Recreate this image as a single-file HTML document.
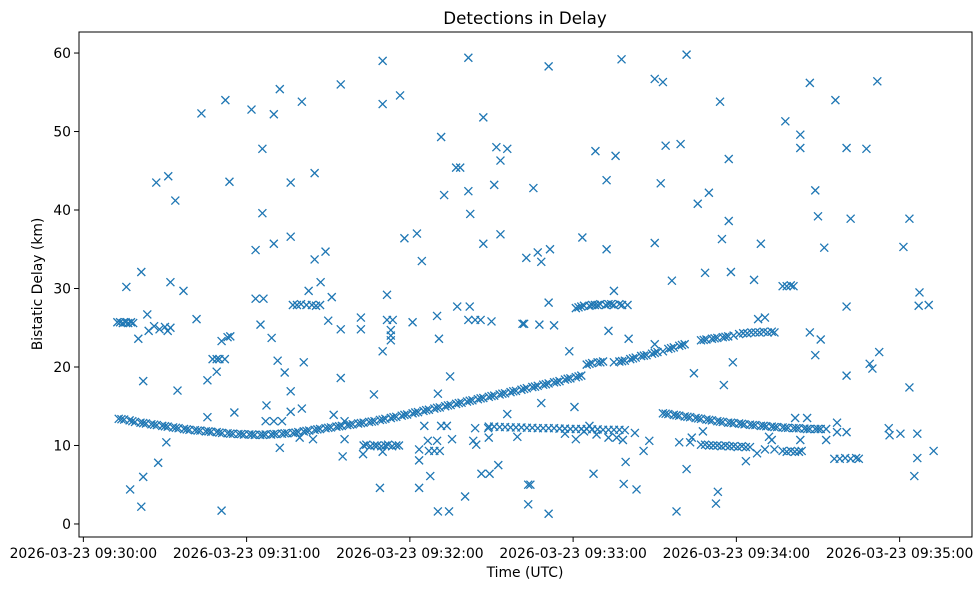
<!DOCTYPE html>
<html><head><meta charset="utf-8"><style>
html,body{margin:0;padding:0;background:#fff;}
svg{display:block;font-family:"DejaVu Sans","Liberation Sans",sans-serif;}
</style></head><body>
<svg id="chart" width="980" height="590" viewBox="0 0 980 590" xmlns="http://www.w3.org/2000/svg">
<rect width="980" height="590" fill="#fff"/>
<text x="525" y="24" font-size="16.7" text-anchor="middle" fill="#000">Detections in Delay</text>
<text x="525" y="577" font-size="13.9" text-anchor="middle" fill="#000">Time (UTC)</text>
<text x="0" y="0" font-size="13.9" text-anchor="middle" fill="#000" transform="translate(42,284) rotate(-90)">Bistatic Delay (km)</text>
<g id="marks"></g>
<g id="axes"></g>
</svg>
<script>
const xTickSeconds=[0,60,120,180,240,300];
const xTickLabels=["2026-03-23 09:30:00","2026-03-23 09:31:00","2026-03-23 09:32:00","2026-03-23 09:33:00","2026-03-23 09:34:00","2026-03-23 09:35:00"];
const yTickValues=[0,10,20,30,40,50,60];
const yTickLabels=["0","10","20","30","40","50","60"];

const upperTrackT=[13,15,17,19,21,23,25,27,29,31,33,35,37,39,41,43,45,47,49,51,53,55,57,59,61,63,65,67,69,71,73,75,77,79,81,83,85,87,89,91,93,95,97,99,101,103,105,107,109,111,113,115,117,119,121,123,125,127,129,131,133,135,137,139,141,143,145,147,149,151,153,155,157,159,161,163,165,167,169,171,173,175,177,179,181,183,185,187,189,191,195,197,199,201,203,205,207,209,211,213,215,217,219,221,227,229,231,233,235,237,239];
const upperTrackV=[13.4,13.3,13.2,13.0,12.9,12.8,12.7,12.6,12.5,12.4,12.3,12.2,12.1,12.0,11.95,11.9,11.8,11.75,11.7,11.6,11.55,11.5,11.45,11.4,11.4,11.35,11.35,11.4,11.4,11.45,11.5,11.55,11.6,11.7,11.8,11.9,12.0,12.1,12.2,12.3,12.4,12.5,12.6,12.7,12.8,12.9,13.0,13.1,13.25,13.4,13.5,13.65,13.8,13.95,14.1,14.25,14.4,14.55,14.7,14.85,15.0,15.15,15.3,15.45,15.6,15.75,15.9,16.05,16.2,16.35,16.5,16.65,16.8,16.95,17.1,17.3,17.45,17.6,17.75,17.9,18.05,18.2,18.4,18.55,18.7,18.9,20.3,20.5,20.6,20.7,20.6,20.7,20.8,21.0,21.2,21.4,21.5,21.7,21.9,22.0,22.3,22.5,22.7,22.9,23.4,23.5,23.6,23.7,23.8,23.9,24.0];
const upperTrackT2=[14,18,22,26,30,34,38,42,46,50,54,58,62,66,70,74,78,82,86,90,94,98,102,106,110,114,118,122,126,130,134,138,142,146,150,154,158,162,166,170,174,178,182,186,190,198,202,206,210,216,220,228,232,236];
const upperTrackV2=[13.35,13.1,12.85,12.65,12.45,12.25,12.05,11.9,11.8,11.65,11.5,11.45,11.4,11.35,11.45,11.55,11.65,11.85,12.05,12.25,12.45,12.65,12.85,13.05,13.3,13.6,13.9,14.2,14.5,14.8,15.1,15.4,15.7,16.0,16.3,16.6,16.9,17.2,17.5,17.8,18.1,18.5,18.8,20.4,20.6,20.75,21.1,21.45,21.8,22.4,22.8,23.45,23.65,23.85];

const lowerTrackT=[213,215,217,219,221,223,225,227,229,231,233,235,237,239,241,243,245,247,249,251,253,255,257,259,261,263,265,267,269,271];
const lowerTrackV=[14.1,14.0,13.9,13.8,13.7,13.6,13.5,13.4,13.3,13.2,13.1,13.0,12.9,12.85,12.8,12.7,12.65,12.6,12.5,12.45,12.4,12.35,12.3,12.25,12.2,12.2,12.15,12.1,12.1,12.1];
const lowerTrackT2=[214,218,222,226,230,234,238,242,246,250,254,258,262,266,270];
const lowerTrackV2=[14.05,13.85,13.65,13.45,13.25,13.05,12.9,12.75,12.6,12.5,12.35,12.25,12.2,12.1,12.1];

const bandT=[149,151,153,155,157,159,161,163,165,167,169,171,173,175,177,179,181,183,185,187,189,191,193,195,197,199];
const bandV=[12.4,12.4,12.35,12.35,12.3,12.3,12.3,12.25,12.25,12.2,12.2,12.2,12.2,12.15,12.15,12.1,12.1,12.1,12.1,12.05,12.05,12.0,12.0,12.0,12.0,11.95];

const clusterT=[12.5,13.5,14.5,15.5,16.5,17.5,18.3, 77,78.5,80,82,84,85.5,87, 103,104,105.5,107,108,109.5,111,112,113.5,115,116, 181,182,183,184,186,187,188,189,190,192,193,194,195,197,198,200, 241,242.5,244,245.5,247,248.5,250,251.5,253,254, 227,228.5,230,231.5,233,234.5,236,237.5,239,240.5,242,243.5,245, 257,258.5,260,261.5,263,264, 257,258.5,260,261, 276,278,280,282,284,285];
const clusterV=[25.7,25.7,25.6,25.7,25.6,25.7,25.6, 27.9,27.9,28.0,27.9,27.9,27.8,27.9, 10.0,10.1,9.9,10.0,10.0,9.9,10.0,10.1,9.9,10.0,10.0, 27.5,27.6,27.7,27.8,27.8,27.9,27.9,27.9,28.0,27.9,28.0,28.0,27.9,28.0,27.9,27.9, 24.2,24.3,24.3,24.4,24.4,24.4,24.5,24.4,24.5,24.4, 10.1,10.1,10.0,10.0,10.0,9.9,10.0,9.9,9.9,9.8,9.9,9.8,9.8, 9.3,9.2,9.3,9.2,9.2,9.3, 30.3,30.3,30.4,30.3, 8.3,8.3,8.4,8.3,8.4,8.3];

const scatterT=[15.8,21.3,26.8,31.2,33.8,32,36.8,23.5,20.2,24,26,28,30,31,32,22,34.6,17.2,21.3,22,27.5,30.5,41.6,43.4,45.6,45.6,47.5,49,50,52,49,50.8,53,54,52.2,53.7,50.8,55.5,61.8,65.8,65.8,63.3,63.3,66.2,65.1,69.2,70,72.2,70,76.2,76.2,71.4,74,76.2,67.3,67,70,73,76.2,80.3,72.2,79.5,84.4,80.3,85,85,89,87.2,82.8,81,91.3,90,94.6,94.6,94.6,92,96,96,95.3,102,102,106.8,102.8,110,109,110,110,116.4,111.6,111.6,113.7,113,113,113,110,118,122.6,124.4,121,130,130.7,131.5,132.6,137,138.5,141.5,141.5,142.2,147,147,151.8,153.3,155.8,151,153.3,162.8,137.4,142,141.5,144,146,150,161.4,125.3,123.4,123.4,123.4,127.5,126.6,130,127,129,131,130.3,134.8,131.5,133.6,135.5,130.3,134.4,140.3,143.3,144.4,144,148.8,149,146.3,149.3,152.5,155.8,159.5,163.5,163.5,171,165.4,167,171.5,168.3,171,162,167.6,173,178.6,183.4,188.2,195.6,192.3,192.3,197.8,195,193,200.4,210,213,214,219.5,212.2,210,210,216.3,221.7,225.8,229.9,234,237.2,237.2,234.7,228.5,238,246.5,249,248,250.5,258,263.5,263.5,267,269,270,272.3,267,271,269,276.4,280.5,282,280.5,287.8,291.8,292.5,289,290,280.5,301.4,303.6,307.3,307,310.7,303.6,296,296.3,300.3,306.5,306.5,305.4,312.5,273,273,277,277,280.5,261.6,266,263.5,168.3,180.5,164.3,171,187.5,198.6,199.3,203.3,205.9,202.7,208,221.7,218,232.5,233.2,224.4,235.4,238.7,243.5,247.6,250.5,254,252,253,227.7,223.6,219,223,177,181,184,186,188.6,193,196,198.3];
const scatterV=[30.2,32.1,43.5,44.3,41.2,30.8,29.7,26.7,23.6,24.6,25.2,24.8,25.1,24.6,25.0,18.2,17,4.4,2.2,6,7.8,10.4,26.1,52.3,18.3,13.6,21,21,21,21,19.4,23.3,23.8,23.9,54,43.6,1.7,14.2,52.8,47.8,39.6,34.9,28.7,28.7,25.4,23.7,52.2,55.4,35.7,43.5,36.6,20.8,19.3,16.9,15.1,13.1,13.1,13.1,14.3,14.7,9.7,11,10.8,53.8,44.7,33.7,34.7,30.8,29.7,20.6,28.9,25.9,24.8,56,18.6,13.9,13.1,10.8,8.6,26.3,24.8,16.5,8.9,9.2,4.6,59,53.5,54.6,29.2,26,26,24.7,24,23.4,22,36.4,37,33.5,25.7,26.5,23.6,49.3,41.9,45.4,45.4,59.4,42.4,39.5,51.8,35.7,48,46.3,47.8,43.2,36.9,33.9,27.7,27.7,26,26,26,25.8,25.5,12.5,9.5,8.1,4.6,6.1,10.6,10.6,9.3,9.3,9.3,16.6,18.8,12.5,12.5,10.8,1.6,1.6,3.5,10.6,10.1,12.2,12.2,11,6.4,6.4,7.5,14,11.1,5,2.5,58.3,42.8,34.6,35,33.4,28.2,25.5,25.4,25.3,22,36.5,47.5,46.9,43.8,35,59.2,29.7,24.6,23.6,56.7,56.3,48.2,48.4,43.4,35.8,22.9,31,59.8,40.8,42.2,53.8,46.5,38.6,36.3,32,32.1,31.1,35.7,26.1,26.3,51.3,49.6,47.9,56.2,42.5,39.2,35.2,24.4,23.5,21.5,54,47.9,38.9,27.7,47.8,56.4,21.9,20.4,19.8,18.9,35.3,38.9,29.5,27.8,27.9,17.4,12.2,11.3,11.5,11.5,8.4,6.1,9.3,12.1,10.7,12.9,11.7,11.7,13.5,13.5,10.7,15.4,14.9,5,1.3,6.4,5.1,7.9,4.4,9.3,11.6,10.6,7,1.6,2.6,4.1,19.2,17.7,20.6,8,9,9.5,9.5,11.1,10.7,11.8,11,10.4,10.4,11.5,10.8,11.8,12.5,11.4,11,11,10.7];

const PL=79,PR=972,PT=32,PB=537;
const X0=-1.6,X1=326.6,Y0=-1.66,Y1=62.68;
function xScale(t){return PL+(t-X0)/(X1-X0)*(PR-PL);}
function yScale(v){return PB-(v-Y0)/(Y1-Y0)*(PB-PT);}
const NS="http://www.w3.org/2000/svg";
const marks=document.getElementById('marks');
const axes=document.getElementById('axes');

function drawSeries(ts,vs,name){
  for(let i=0;i<ts.length;i++){
    const cx=xScale(ts[i]),cy=yScale(vs[i]),r=4;
    const p=document.createElementNS(NS,'path');
    p.setAttribute('d',`M${cx-r},${cy-r}L${cx+r},${cy+r}M${cx-r},${cy+r}L${cx+r},${cy-r}`);
    p.setAttribute('stroke','#1f77b4');
    p.setAttribute('stroke-width','1.3');
    p.setAttribute('fill','none');
    
    
    marks.appendChild(p);
  }
}
drawSeries(upperTrackT,upperTrackV,'upper-track');
drawSeries(upperTrackT2,upperTrackV2,'upper-track');
drawSeries(lowerTrackT,lowerTrackV,'lower-track');
drawSeries(lowerTrackT2,lowerTrackV2,'lower-track');
drawSeries(bandT,bandV,'band');
drawSeries(clusterT,clusterV,'cluster');
drawSeries(scatterT,scatterV,'scatter');

const frame=document.createElementNS(NS,'rect');
frame.setAttribute('x',PL);frame.setAttribute('y',PT);
frame.setAttribute('width',PR-PL);frame.setAttribute('height',PB-PT);
frame.setAttribute('fill','none');frame.setAttribute('stroke','#000');frame.setAttribute('stroke-width','1');


axes.appendChild(frame);

xTickSeconds.forEach((s,i)=>{
  const x=xScale(s);
  const l=document.createElementNS(NS,'line');
  l.setAttribute('x1',x);l.setAttribute('x2',x);l.setAttribute('y1',PB);l.setAttribute('y2',PB+5);
  l.setAttribute('stroke','#000');
  
  
  axes.appendChild(l);
  const t=document.createElementNS(NS,'text');
  t.setAttribute('x',x);t.setAttribute('y',PB+21);
  t.setAttribute('font-size','13.9');t.setAttribute('text-anchor','middle');
  t.textContent=xTickLabels[i];
  
  
  axes.appendChild(t);
});
yTickValues.forEach((v,i)=>{
  const y=yScale(v);
  const l=document.createElementNS(NS,'line');
  l.setAttribute('x1',PL-5);l.setAttribute('x2',PL);l.setAttribute('y1',y);l.setAttribute('y2',y);
  l.setAttribute('stroke','#000');
  
  
  axes.appendChild(l);
  const t=document.createElementNS(NS,'text');
  t.setAttribute('x',PL-8);t.setAttribute('y',y+5);
  t.setAttribute('font-size','13.9');t.setAttribute('text-anchor','end');
  t.textContent=yTickLabels[i];
  
  
  axes.appendChild(t);
});
</script>
</body></html>
